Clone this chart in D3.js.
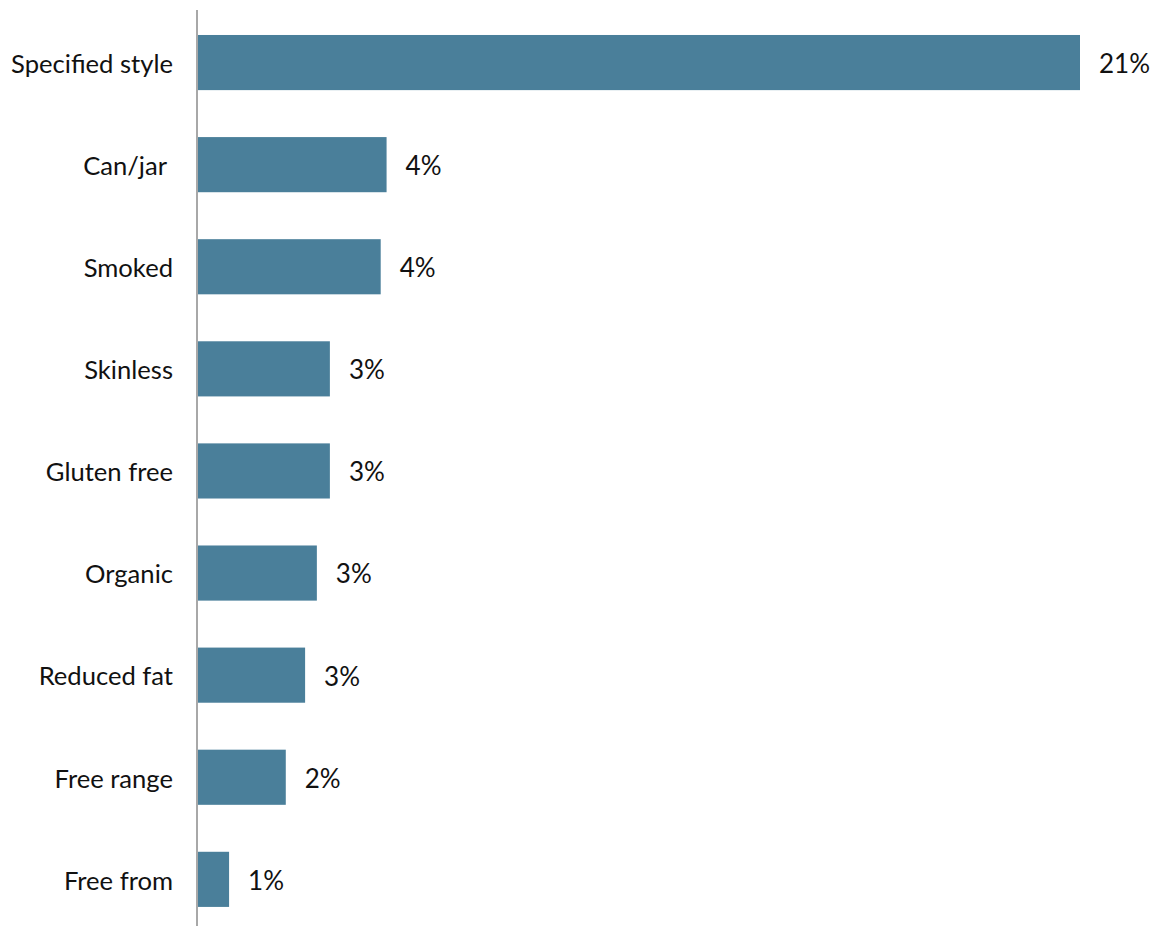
<!DOCTYPE html>
<html>
<head>
<meta charset="utf-8">
<script src="https://cdn.jsdelivr.net/npm/d3@7"></script>
<style>
  html, body { margin: 0; padding: 0; background: #fff; }
  svg { display: block; font-family: Lato, "Open Sans", sans-serif; }
  .tick text { white-space: pre; }
</style>
</head>
<body>
<svg id="chart" width="1150" height="926"></svg>
<script>
// Share of products by claim (%)
const categories = ["Specified style", "Can/jar ", "Smoked", "Skinless", "Gluten free",
                    "Organic", "Reduced fat", "Free range", "Free from"];
const values = [21.0, 4.49, 4.35, 3.14, 3.14, 2.83, 2.55, 2.09, 0.74];

const svg = d3.select("#chart");
const W = 1150, H = 926;

const x = d3.scaleLinear().domain([0, 21]).range([198, 1080]);
const y = d3.scaleBand().domain(categories).range([11.5, 930.4])
  .paddingInner(0.46).paddingOuter(0.23);

const fmt = v => Math.round(v) + "%";

// bars
svg.append("g").selectAll("rect")
  .data(categories)
  .join("rect")
  .attr("x", x(0))
  .attr("y", d => y(d))
  .attr("width", (d, i) => x(values[i]) - x(0))
  .attr("height", y.bandwidth())
  .attr("fill", "#4a7f9a");

// value labels
svg.append("g").selectAll("text")
  .data(categories)
  .join("text")
  .attr("x", (d, i) => x(values[i]) + 19)
  .attr("y", d => y(d) + y.bandwidth() / 2)
  .attr("dy", "0.4em")
  .attr("font-size", 26)
  .attr("fill", "#111")
  .text((d, i) => fmt(values[i]));

// category axis
const axis = svg.append("g")
  .attr("transform", `translate(${x(0) - 1},0)`)
  .call(d3.axisLeft(y).tickSize(0).tickPadding(24));
axis.select(".domain")
  .attr("d", `M0,10V${H}`)
  .attr("stroke", "#a8a8a8")
  .attr("stroke-width", 2);
axis.selectAll(".tick text")
  .attr("font-family", "Lato, 'Open Sans', sans-serif")
  .attr("font-size", 25.6)
  .attr("fill", "#111")
  .attr("dy", "0.4em");
</script>
</body>
</html>
